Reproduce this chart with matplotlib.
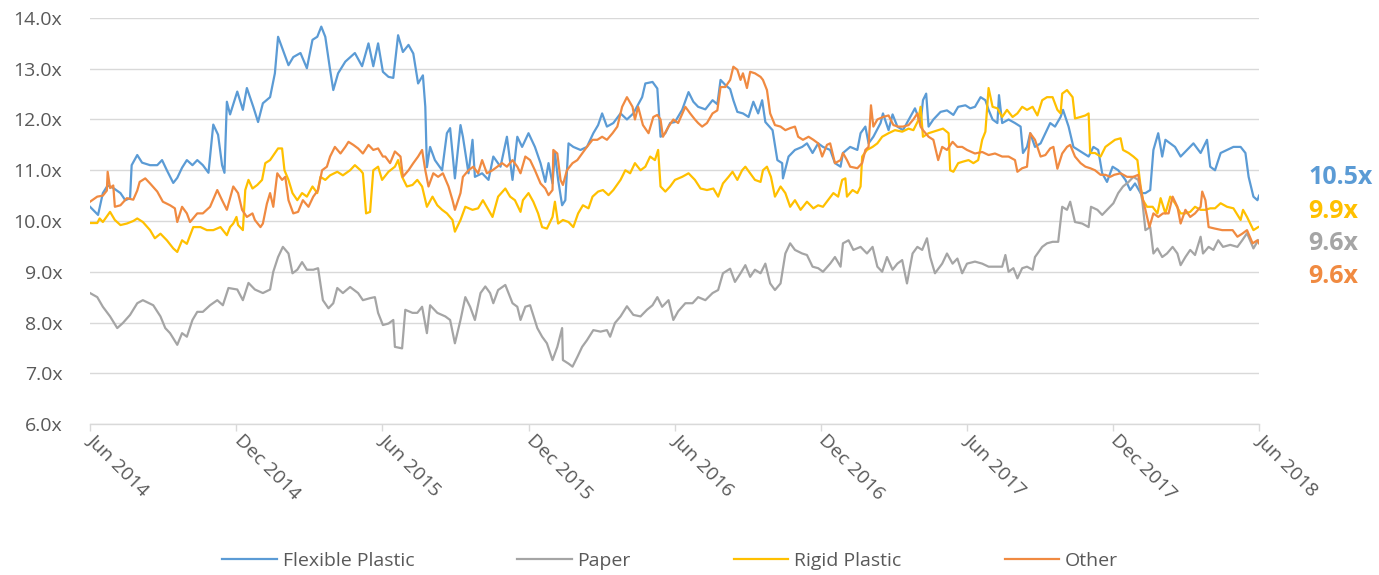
import pandas as pd
import matplotlib
matplotlib.use("Agg")
import matplotlib.pyplot as plt
import matplotlib.dates as mdates
import matplotlib.transforms as mtransforms
from matplotlib.ticker import FuncFormatter, MultipleLocator

plt.rcParams['font.family'] = ['Open Sans', 'DejaVu Sans']

# EV/EBITDA multiples, day offsets counted from 1 Jun 2014
START = pd.Timestamp("2014-06-01")
END = pd.Timestamp("2018-06-01")

series_names = ["Flexible Plastic", "Paper", "Rigid Plastic", "Other"]
series_colors = ["#5B9BD5", "#A5A5A5", "#FFC000", "#F08A41"]
# latest multiple per series, listed top to bottom as shown on the right
end_labels = ["10.5x", "9.9x", "9.6x", "9.6x"]
end_label_series = [0, 2, 1, 3]
end_label_y = [10.85, 10.18, 9.55, 8.90]

flex_days = [
    0, 10, 16, 22, 29, 38, 44, 50, 52, 59,
    65, 75, 84, 90, 96, 104, 109, 115, 121, 128,
    134, 141, 148, 154, 160, 165, 168, 171, 175, 184,
    191, 196, 204, 210, 216, 225, 231, 235, 241, 248,
    254, 263, 271, 278, 284, 289, 294, 300, 304, 310,
    319, 331, 340, 348, 354, 360, 366, 373, 379, 385,
    391, 398, 404, 410, 416, 419, 421, 425, 431, 440,
    446, 450, 456, 463, 466, 473, 478, 481, 490, 498,
    504, 513, 521, 528, 534, 540, 548, 556, 563, 569,
    573, 578, 581, 585, 590, 594, 598, 604, 613, 621,
    629, 635, 640, 646, 654, 663, 671, 679, 690, 694,
    703, 709, 713, 719, 725, 731, 740, 748, 754, 760,
    769, 778, 784, 788, 794, 800, 804, 809, 816, 823,
    829, 835, 840, 844, 853, 859, 865, 866, 873, 881,
    890, 896, 903, 910, 916, 925, 931, 938, 941, 950,
    959, 963, 969, 973, 979, 988, 991, 998, 1003, 1009,
    1016, 1025, 1031, 1038, 1041, 1045, 1048, 1054, 1063, 1071,
    1079, 1085, 1094, 1100, 1106, 1113, 1119, 1123, 1128, 1134,
    1136, 1140, 1148, 1156, 1163, 1166, 1171, 1175, 1181, 1188,
    1194, 1200, 1206, 1213, 1216, 1223, 1229, 1235, 1241, 1248,
    1254, 1260, 1265, 1271, 1278, 1285, 1288, 1294, 1300, 1306,
    1313, 1319, 1325, 1329, 1335, 1340, 1344, 1350, 1356, 1363,
    1371, 1379, 1388, 1396, 1400, 1406, 1413, 1421, 1429, 1438,
    1444, 1448, 1454, 1459, 1461]
flex_vals = [
    10.28, 10.12, 10.55, 10.70, 10.65, 10.55, 10.41, 10.45, 11.10, 11.30,
    11.15, 11.10, 11.10, 11.20, 11.00, 10.75, 10.85, 11.05, 11.20, 11.10,
    11.20, 11.10, 10.95, 11.90, 11.70, 11.10, 10.95, 12.35, 12.10, 12.55,
    12.19, 12.62, 12.25, 11.95, 12.32, 12.44, 12.91, 13.63, 13.37, 13.07,
    13.23, 13.31, 13.01, 13.57, 13.63, 13.83, 13.63, 12.98, 12.58, 12.91,
    13.14, 13.31, 13.05, 13.50, 13.05, 13.50, 12.94, 12.84, 12.82, 13.66,
    13.33, 13.47, 13.30, 12.71, 12.87, 12.25, 11.06, 11.46, 11.20, 11.00,
    11.73, 11.83, 10.84, 11.89, 11.66, 10.94, 11.60, 10.87, 10.94, 10.81,
    11.27, 11.07, 11.66, 10.81, 11.66, 11.46, 11.73, 11.46, 11.14, 10.77,
    11.14, 10.74, 11.34, 10.81, 10.31, 10.41, 11.53, 11.46, 11.40, 11.46,
    11.73, 11.89, 12.12, 11.86, 11.93, 12.12, 12.00, 12.12, 12.44, 12.71,
    12.74, 12.61, 11.66, 11.73, 11.93, 11.95, 12.19, 12.54, 12.35, 12.25,
    12.20, 12.38, 12.30, 12.78, 12.68, 12.60, 12.38, 12.15, 12.12, 12.05,
    12.35, 12.12, 12.38, 11.95, 11.79, 11.20, 11.14, 10.84, 11.27, 11.40,
    11.46, 11.53, 11.34, 11.53, 11.46, 11.40, 11.14, 11.07, 11.34, 11.46,
    11.40, 11.73, 11.86, 11.53, 11.66, 11.93, 12.12, 11.79, 12.10, 11.86,
    11.79, 12.05, 12.22, 11.93, 12.38, 12.51, 11.86, 12.00, 12.15, 12.18,
    12.09, 12.25, 12.28, 12.22, 12.25, 12.44, 12.38, 12.19, 12.00, 11.93,
    12.48, 11.93, 12.00, 11.93, 11.86, 11.34, 11.46, 11.73, 11.46, 11.53,
    11.73, 11.93, 11.86, 12.05, 12.19, 11.86, 11.46, 11.40, 11.34, 11.27,
    11.46, 11.40, 10.94, 10.77, 11.07, 11.00, 10.94, 10.81, 10.61, 10.74,
    10.55, 10.55, 10.61, 11.40, 11.73, 11.27, 11.60, 11.53, 11.46, 11.27,
    11.40, 11.53, 11.34, 11.60, 11.07, 11.00, 11.34, 11.40, 11.46, 11.46,
    11.34, 10.87, 10.48, 10.41, 10.50]

paper_days = [
    0, 9, 16, 25, 34, 41, 50, 59, 66, 79,
    88, 94, 100, 109, 115, 121, 128, 134, 141, 150,
    159, 166, 173, 184, 191, 198, 206, 216, 225, 229,
    235, 241, 248, 253, 259, 265, 271, 279, 285, 291,
    298, 304, 309, 316, 325, 335, 341, 350, 356, 360,
    366, 373, 379, 381, 390, 394, 403, 409, 415, 421,
    425, 434, 444, 450, 456, 463, 469, 475, 481, 488,
    494, 500, 504, 510, 519, 528, 534, 538, 544, 550,
    559, 565, 571, 578, 584, 590, 591, 598, 603, 609,
    615, 621, 629, 638, 646, 650, 656, 663, 671, 679,
    688, 696, 703, 709, 715, 723, 729, 735, 744, 753,
    760, 769, 778, 785, 791, 800, 806, 813, 819, 825,
    831, 838, 844, 850, 856, 863, 869, 875, 881, 890,
    896, 903, 910, 916, 925, 931, 938, 941, 948, 954,
    963, 971, 978, 984, 990, 996, 1003, 1009, 1015, 1021,
    1028, 1034, 1040, 1046, 1050, 1056, 1065, 1071, 1078, 1084,
    1090, 1096, 1106, 1115, 1123, 1131, 1140, 1144, 1148, 1154,
    1159, 1165, 1171, 1178, 1181, 1190, 1196, 1203, 1210, 1215,
    1221, 1225, 1231, 1240, 1248, 1251, 1259, 1265, 1273, 1279,
    1285, 1291, 1298, 1304, 1310, 1315, 1319, 1325, 1329, 1334,
    1340, 1346, 1353, 1359, 1363, 1369, 1375, 1381, 1388, 1391,
    1398, 1404, 1410, 1416, 1425, 1434, 1440, 1446, 1454, 1460]
paper_vals = [
    8.58, 8.50, 8.31, 8.12, 7.89, 7.99, 8.15, 8.38, 8.44, 8.34,
    8.12, 7.89, 7.79, 7.56, 7.79, 7.72, 8.05, 8.21, 8.21, 8.34,
    8.44, 8.34, 8.68, 8.65, 8.44, 8.78, 8.65, 8.58, 8.65, 9.00,
    9.29, 9.49, 9.36, 8.97, 9.04, 9.19, 9.04, 9.04, 9.07, 8.44,
    8.28, 8.38, 8.68, 8.58, 8.70, 8.58, 8.44, 8.48, 8.50, 8.19,
    7.95, 7.98, 8.05, 7.52, 7.49, 8.25, 8.19, 8.19, 8.31, 7.79,
    8.34, 8.19, 8.12, 8.05, 7.59, 8.05, 8.50, 8.31, 8.05, 8.58,
    8.71, 8.58, 8.38, 8.64, 8.74, 8.38, 8.31, 8.05, 8.31, 8.34,
    7.89, 7.72, 7.59, 7.26, 7.52, 7.89, 7.26, 7.19, 7.13, 7.32,
    7.52, 7.65, 7.85, 7.82, 7.85, 7.72, 7.99, 8.12, 8.32, 8.15,
    8.12, 8.25, 8.34, 8.50, 8.31, 8.44, 8.05, 8.22, 8.38, 8.38,
    8.50, 8.44, 8.58, 8.64, 8.97, 9.06, 8.80, 8.97, 9.13, 8.90,
    9.04, 8.97, 9.16, 8.77, 8.64, 8.77, 9.36, 9.56, 9.43, 9.36,
    9.33, 9.10, 9.07, 9.00, 9.16, 9.29, 9.10, 9.56, 9.62, 9.43,
    9.49, 9.36, 9.49, 9.10, 9.00, 9.29, 9.04, 9.16, 9.23, 8.77,
    9.36, 9.49, 9.43, 9.66, 9.29, 8.97, 9.16, 9.36, 9.16, 9.26,
    8.97, 9.16, 9.20, 9.16, 9.10, 9.10, 9.10, 9.33, 9.00, 9.07,
    8.87, 9.07, 9.10, 9.04, 9.29, 9.49, 9.56, 9.59, 9.59, 10.28,
    10.22, 10.38, 9.98, 9.95, 9.88, 10.28, 10.22, 10.12, 10.25, 10.35,
    10.55, 10.68, 10.77, 10.87, 10.81, 10.41, 9.82, 9.88, 9.36, 9.46,
    9.29, 9.36, 9.49, 9.36, 9.13, 9.29, 9.43, 9.33, 9.69, 9.36,
    9.49, 9.43, 9.62, 9.49, 9.53, 9.49, 9.62, 9.76, 9.46, 9.62]

rigid_days = [
    0, 9, 12, 16, 25, 31, 38, 46, 54, 59,
    66, 75, 81, 88, 96, 104, 109, 115, 121, 129,
    138, 146, 154, 163, 171, 175, 179, 183, 185, 191,
    194, 198, 203, 209, 215, 219, 225, 231, 235, 240,
    243, 248, 253, 259, 265, 271, 278, 284, 288, 294,
    300, 309, 316, 325, 331, 338, 341, 345, 350, 354,
    360, 365, 373, 381, 385, 390, 396, 403, 409, 415,
    421, 428, 434, 440, 446, 453, 456, 463, 469, 478,
    485, 491, 498, 503, 510, 519, 525, 531, 538, 541,
    548, 554, 560, 565, 571, 578, 581, 585, 591, 598,
    604, 610, 616, 623, 628, 635, 641, 648, 654, 663,
    669, 675, 681, 688, 694, 700, 706, 710, 713, 719,
    725, 731, 740, 748, 756, 763, 771, 779, 785, 791,
    798, 803, 809, 815, 819, 825, 831, 838, 841, 846,
    851, 856, 863, 869, 875, 881, 888, 896, 904, 910,
    916, 929, 935, 940, 944, 946, 953, 959, 963, 965,
    971, 978, 984, 990, 998, 1006, 1015, 1023, 1029, 1035,
    1038, 1041, 1048, 1054, 1060, 1066, 1073, 1075, 1079, 1085,
    1091, 1098, 1104, 1110, 1115, 1119, 1123, 1128, 1134, 1140,
    1146, 1153, 1159, 1165, 1171, 1178, 1184, 1190, 1196, 1203,
    1209, 1213, 1215, 1221, 1228, 1231, 1238, 1244, 1248, 1250,
    1256, 1263, 1269, 1275, 1281, 1288, 1291, 1298, 1304, 1309,
    1313, 1316, 1321, 1328, 1334, 1338, 1344, 1350, 1356, 1363,
    1369, 1375, 1381, 1388, 1394, 1400, 1406, 1413, 1421, 1429,
    1438, 1441, 1446, 1454, 1460]
rigid_vals = [
    9.96, 9.96, 10.05, 9.98, 10.18, 10.02, 9.92, 9.95, 10.00, 10.05,
    9.98, 9.82, 9.66, 9.75, 9.62, 9.46, 9.39, 9.62, 9.55, 9.88,
    9.88, 9.82, 9.82, 9.88, 9.72, 9.88, 9.95, 10.08, 9.92, 9.82,
    10.61, 10.81, 10.64, 10.71, 10.81, 11.14, 11.20, 11.34, 11.43, 11.43,
    11.00, 10.81, 10.55, 10.41, 10.55, 10.48, 10.68, 10.55, 10.87, 10.81,
    10.90, 10.97, 10.90, 11.00, 11.10, 11.00, 10.94, 10.15, 10.18, 11.00,
    11.07, 10.81, 10.97, 11.07, 11.20, 10.87, 10.68, 10.71, 10.81, 10.68,
    10.28, 10.48, 10.31, 10.22, 10.15, 10.02, 9.79, 10.02, 10.28, 10.22,
    10.25, 10.41, 10.22, 10.08, 10.48, 10.64, 10.48, 10.41, 10.18, 10.41,
    10.55, 10.38, 10.15, 9.88, 9.85, 10.08, 10.38, 9.95, 10.02, 9.98,
    9.88, 10.15, 10.31, 10.25, 10.48, 10.58, 10.61, 10.51, 10.61, 10.81,
    11.00, 10.94, 11.14, 11.00, 11.07, 11.27, 11.20, 11.40, 10.68, 10.58,
    10.68, 10.81, 10.87, 10.94, 10.81, 10.64, 10.61, 10.64, 10.48, 10.74,
    10.87, 10.97, 10.81, 11.00, 11.07, 10.94, 10.81, 10.77, 11.00, 11.07,
    10.87, 10.48, 10.68, 10.55, 10.28, 10.41, 10.22, 10.38, 10.25, 10.31,
    10.28, 10.55, 10.48, 10.81, 10.84, 10.48, 10.61, 10.55, 10.68, 11.27,
    11.40, 11.46, 11.53, 11.66, 11.73, 11.79, 11.76, 11.82, 11.79, 11.98,
    12.25, 11.66, 11.73, 11.76, 11.79, 11.82, 11.73, 11.00, 10.97, 11.14,
    11.17, 11.20, 11.14, 11.20, 11.60, 11.76, 12.62, 12.25, 12.22, 12.05,
    12.19, 12.05, 12.12, 12.25, 12.19, 12.25, 12.08, 12.38, 12.44, 12.44,
    12.19, 12.12, 12.51, 12.58, 12.44, 12.02, 12.05, 12.08, 12.12, 11.34,
    11.34, 11.27, 11.46, 11.53, 11.60, 11.63, 11.40, 11.34, 11.27, 11.20,
    10.68, 10.41, 10.28, 10.28, 10.15, 10.45, 10.15, 10.48, 10.35, 10.15,
    10.15, 10.18, 10.28, 10.22, 10.22, 10.25, 10.25, 10.35, 10.28, 10.25,
    10.02, 10.22, 10.08, 9.82, 9.88]

other_days = [
    0, 9, 16, 21, 22, 25, 29, 31, 38, 46,
    54, 59, 62, 69, 75, 84, 91, 100, 106, 109,
    115, 121, 125, 134, 141, 150, 159, 165, 171, 179,
    185, 190, 196, 203, 206, 213, 216, 221, 225, 229,
    234, 240, 244, 248, 254, 260, 266, 273, 279, 285,
    290, 296, 300, 306, 313, 319, 323, 329, 335, 341,
    348, 354, 360, 366, 369, 375, 381, 388, 391, 398,
    404, 410, 415, 419, 423, 429, 435, 441, 448, 453,
    456, 463, 466, 473, 479, 485, 490, 496, 503, 509,
    515, 521, 528, 534, 538, 544, 550, 556, 563, 569,
    573, 578, 579, 584, 588, 591, 596, 603, 609, 615,
    621, 628, 634, 640, 646, 653, 659, 665, 671, 678,
    681, 685, 691, 698, 704, 709, 713, 716, 723, 729,
    735, 744, 750, 756, 760, 765, 771, 778, 784, 788,
    794, 800, 804, 809, 813, 816, 821, 825, 831, 838,
    841, 846, 850, 856, 863, 869, 875, 881, 885, 891,
    898, 904, 910, 915, 921, 925, 931, 938, 941, 946,
    950, 959, 965, 969, 973, 976, 979, 984, 991, 998,
    1004, 1010, 1016, 1023, 1029, 1034, 1038, 1041, 1048, 1054,
    1060, 1065, 1071, 1078, 1084, 1090, 1096, 1106, 1115, 1123,
    1131, 1140, 1148, 1156, 1159, 1165, 1171, 1175, 1181, 1188,
    1194, 1200, 1204, 1209, 1215, 1221, 1225, 1231, 1238, 1244,
    1250, 1256, 1263, 1269, 1275, 1280, 1288, 1296, 1304, 1310,
    1315, 1319, 1324, 1329, 1335, 1341, 1348, 1353, 1359, 1363,
    1369, 1375, 1381, 1388, 1390, 1394, 1398, 1406, 1415, 1421,
    1428, 1434, 1440, 1446, 1453, 1459, 1461]
other_vals = [
    10.38, 10.48, 10.50, 10.60, 10.97, 10.65, 10.70, 10.28, 10.31, 10.45,
    10.42, 10.60, 10.77, 10.84, 10.74, 10.58, 10.38, 10.31, 10.25, 9.98,
    10.28, 10.15, 9.98, 10.15, 10.15, 10.28, 10.61, 10.41, 10.22, 10.68,
    10.55, 10.22, 10.08, 10.15, 10.02, 9.88, 9.95, 10.34, 10.55, 10.28,
    10.94, 10.81, 10.87, 10.41, 10.15, 10.18, 10.41, 10.28, 10.48, 10.61,
    11.00, 11.07, 11.27, 11.46, 11.33, 11.46, 11.56, 11.50, 11.43, 11.33,
    11.50, 11.40, 11.43, 11.27, 11.27, 11.14, 11.37, 11.27, 10.87, 11.00,
    11.14, 11.27, 11.40, 11.00, 10.68, 10.94, 10.87, 10.94, 10.68, 10.41,
    10.22, 10.55, 10.87, 11.00, 11.07, 10.94, 11.20, 10.94, 11.00, 11.07,
    11.14, 11.07, 11.20, 11.07, 10.94, 11.27, 11.20, 11.00, 10.74, 10.64,
    10.51, 10.61, 11.40, 11.33, 10.81, 10.71, 11.00, 11.14, 11.20, 11.33,
    11.46, 11.60, 11.60, 11.66, 11.60, 11.73, 11.86, 12.25, 12.44, 12.25,
    12.00, 12.25, 11.89, 11.73, 12.05, 12.09, 12.00, 11.66, 11.86, 12.00,
    11.93, 12.25, 12.12, 12.00, 11.93, 11.86, 11.93, 12.12, 12.18, 12.64,
    12.64, 12.78, 13.04, 12.98, 12.78, 12.91, 12.62, 12.94, 12.91, 12.84,
    12.78, 12.58, 12.12, 11.89, 11.86, 11.79, 11.83, 11.86, 11.66, 11.60,
    11.66, 11.60, 11.53, 11.27, 11.50, 11.53, 11.14, 11.20, 11.34, 11.20,
    11.07, 11.04, 11.14, 11.40, 11.46, 12.28, 11.86, 12.00, 12.05, 12.08,
    11.89, 11.86, 11.86, 11.89, 12.00, 12.12, 11.86, 11.79, 11.66, 11.60,
    11.20, 11.46, 11.40, 11.56, 11.46, 11.46, 11.40, 11.33, 11.36, 11.30,
    11.33, 11.27, 11.27, 11.20, 10.97, 11.04, 11.07, 11.73, 11.60, 11.27,
    11.30, 11.43, 11.46, 11.03, 11.33, 11.46, 11.50, 11.27, 11.14, 11.07,
    11.04, 11.00, 10.91, 10.91, 10.87, 10.91, 10.94, 10.87, 10.87, 10.91,
    10.48, 10.22, 9.88, 10.15, 10.08, 10.15, 10.15, 10.48, 10.28, 9.95,
    10.22, 10.08, 10.15, 10.28, 10.58, 10.41, 9.88, 9.85, 9.82, 9.82,
    9.82, 9.69, 9.75, 9.82, 9.56, 9.62, 9.56]

all_days = [flex_days, paper_days, rigid_days, other_days]
all_vals = [flex_vals, paper_vals, rigid_vals, other_vals]

fig = plt.figure(figsize=(13.79, 5.75), dpi=100)
ax = fig.add_axes([0.0653, 0.2626, 0.8477, 0.7061])

handles = []
for name, color, days, vals in zip(series_names, series_colors, all_days, all_vals):
    dates = START + pd.to_timedelta(days, unit="D")
    line, = ax.plot(dates, vals, color=color, lw=1.6, label=name)
    handles.append(line)

ax.set_xlim(START, END)
ax.set_ylim(6, 14)
ax.yaxis.set_major_locator(MultipleLocator(1))
ax.yaxis.set_major_formatter(FuncFormatter(lambda v, _: f"{v:.1f}x"))
ax.xaxis.set_major_locator(mdates.MonthLocator(bymonth=[6, 12]))
ax.xaxis.set_major_formatter(mdates.DateFormatter("%b %Y"))

ax.grid(axis="y", color="#D9D9D9", lw=1.0)
ax.set_axisbelow(True)
for side in ["left", "right", "top"]:
    ax.spines[side].set_visible(False)
ax.spines["bottom"].set_color("#D9D9D9")
ax.spines["bottom"].set_linewidth(1.0)

ax.tick_params(axis="y", length=0, pad=20, labelsize=14, labelcolor="#595959")
ax.tick_params(axis="x", length=5, width=1.0, color="#D9D9D9", pad=0,
               labelsize=14, labelcolor="#595959")
# nudge the slanted date labels a little to the right of each tick
nudge = mtransforms.ScaledTranslation(5 / 72, 0, fig.dpi_scale_trans)
for lbl in ax.get_xticklabels():
    lbl.set_rotation(-45)
    lbl.set_ha("left")
    lbl.set_va("top")
    lbl.set_rotation_mode("anchor")
    lbl.set_transform(lbl.get_transform() + nudge)

trans = mtransforms.blended_transform_factory(ax.transAxes, ax.transData)
for txt, idx, y in zip(end_labels, end_label_series, end_label_y):
    ax.text(1.042, y, txt, transform=trans, color=series_colors[idx], fontsize=18,
            fontweight="bold", va="center", ha="left")

leg = fig.legend(handles=handles, loc="center", bbox_to_anchor=(0.486, 0.0243),
                 ncol=4, frameon=False, fontsize=14, handlelength=2.8,
                 handletextpad=0.3, columnspacing=5.3)
for t in leg.get_texts():
    t.set_color("#595959")

fig.savefig("out.png", dpi=100)
